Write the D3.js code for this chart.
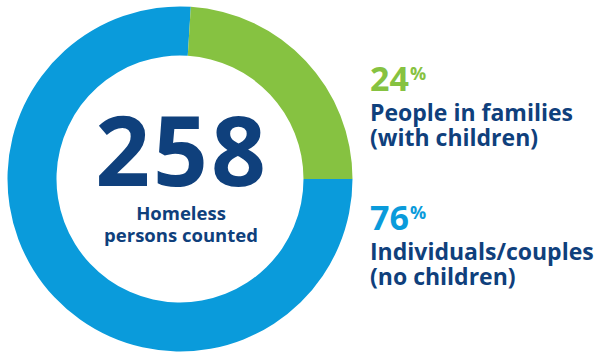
<!DOCTYPE html>
<html>
<head>
<meta charset="utf-8">
<script src="https://cdn.jsdelivr.net/npm/d3@7"></script>
<style>
  html, body { margin: 0; padding: 0; background: #ffffff; }
  svg { display: block; }
  text { font-family: "Open Sans", "Noto Sans", sans-serif; }
</style>
</head>
<body>
<svg id="chart" width="597" height="352"></svg>
<script>
// Homeless count, split by household type
const categories = ["Individuals/couples", "People in families"];
const subLabels = ["(no children)", "(with children)"];
const shares = [76, 24];
const totalCounted = 258;
const centerCaption = ["Homeless", "persons counted"];

const cx = 180, cy = 179;
const outerR = 172.5, innerR = 123.5;

const navy = "#0f407c";
const color = d3.scaleOrdinal()
  .domain(categories)
  .range(["#0a9bdb", "#86c241"]);

const svg = d3.select("#chart");

// Ring: the first slice begins at 3 o'clock and runs clockwise
const pie = d3.pie()
  .sort(null)
  .value(d => d.value)
  .startAngle(Math.PI / 2)
  .endAngle(Math.PI / 2 + 2 * Math.PI);

const arc = d3.arc().innerRadius(innerR).outerRadius(outerR);

const data = categories.map((c, i) => ({ name: c, value: shares[i] }));

const g = svg.append("g").attr("transform", `translate(${cx},${cy})`);
g.selectAll("path")
  .data(pie(data))
  .join("path")
  .attr("d", arc)
  .attr("fill", d => color(d.data.name));

// Central figure
g.append("text")
  .attr("x", 2)
  .attr("y", 7)
  .attr("text-anchor", "middle")
  .attr("font-size", 96)
  .attr("font-weight", 700)
  .attr("letter-spacing", 3)
  .attr("fill", navy)
  .text(d3.format("d")(totalCounted));

g.selectAll("text.caption")
  .data(centerCaption)
  .join("text")
  .attr("class", "caption")
  .attr("x", 1)
  .attr("y", (d, i) => 41 + i * 22)
  .attr("text-anchor", "middle")
  .attr("font-size", 18.5)
  .attr("font-weight", 700)
  .attr("fill", navy)
  .text(d => d);

// Legend blocks on the right, families first
const legendOrder = [1, 0];
const legendTop = [91, 230];
const lx = 370;

legendOrder.forEach((idx, k) => {
  const base = legendTop[k];
  const pct = svg.append("text")
    .attr("x", lx)
    .attr("y", base)
    .attr("font-weight", 700)
    .attr("fill", color(categories[idx]));
  pct.append("tspan")
    .attr("font-size", 34)
    .text(shares[idx]);
  pct.append("tspan")
    .attr("font-size", 18)
    .attr("dx", 1)
    .attr("dy", -11)
    .text("%");

  svg.append("text")
    .attr("x", lx)
    .attr("y", base + 30)
    .attr("font-size", 23)
    .attr("font-weight", 700)
    .attr("fill", navy)
    .text(categories[idx]);

  svg.append("text")
    .attr("x", lx)
    .attr("y", base + 55)
    .attr("font-size", 23)
    .attr("font-weight", 700)
    .attr("fill", navy)
    .text(subLabels[idx]);
});
</script>
</body>
</html>
